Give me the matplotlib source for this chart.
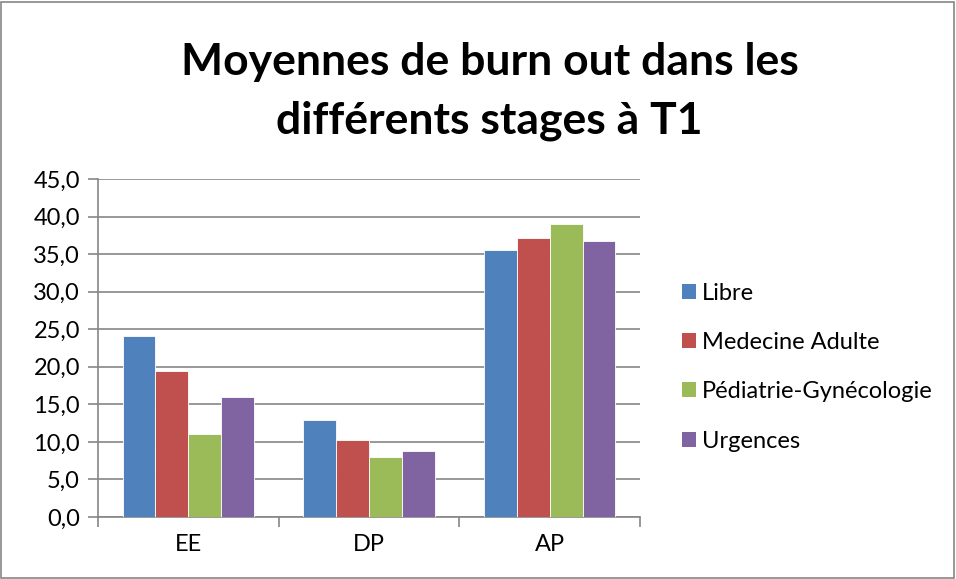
import matplotlib
matplotlib.use("Agg")
from matplotlib import pyplot as plt
from matplotlib.patches import Rectangle, Patch
import numpy as np

categories = ["EE", "DP", "AP"]
series = ["Libre", "Medecine Adulte", "Pédiatrie-Gynécologie", "Urgences"]
libre = [24.1, 12.85, 35.5]
medecine = [19.5, 10.2, 37.1]
pediatrie = [11.0, 7.95, 39.0]
urgences = [16.0, 8.8, 36.7]
yticks = [0, 5, 10, 15, 20, 25, 30, 35, 40, 45]

colors = ["#4F81BD", "#C0504D", "#9BBB59", "#8064A2"]
values = [libre, medecine, pediatrie, urgences]

plt.rcParams["font.family"] = ["Lato", "DejaVu Sans"]

fig = plt.figure(figsize=(9.56, 5.79), dpi=100)
ax = fig.add_axes([0.1025, 0.1071, 0.567, 0.5838])

x = np.arange(len(categories))
w = 1 / 5.5
for i, (vals, c) in enumerate(zip(values, colors)):
    ax.bar(x + (i - 1.5) * w, vals, width=w, color=c, edgecolor="white",
           linewidth=0.6, zorder=3, label=series[i])

ax.set_xlim(-0.5, 2.5)
ax.set_ylim(0, 45)
ax.set_yticks(yticks)
ax.set_yticklabels([f"{v:.1f}".replace(".", ",") for v in yticks], fontsize=17)
ax.yaxis.grid(True, color="#868686", linewidth=1.2, zorder=0)

ax.set_xticks(x)
ax.set_xticklabels(categories, fontsize=17)
ax.tick_params(axis="x", which="major", length=0, pad=12)
ax.set_xticks([-0.5, 0.5, 1.5, 2.5], minor=True)
ax.tick_params(axis="x", which="minor", length=7, color="#868686", width=1.2)
ax.tick_params(axis="y", length=7, color="#868686", width=1.2, pad=6)

for s in ["top", "right"]:
    ax.spines[s].set_visible(False)
for s in ["left", "bottom"]:
    ax.spines[s].set_color("#868686")
    ax.spines[s].set_linewidth(1.2)

fig.text(0.512, 0.842, "Moyennes de burn out dans les\ndifférents stages à T1",
         ha="center", va="center", fontsize=32, fontweight="bold",
         linespacing=1.55)

handles = [Patch(facecolor=c, edgecolor="none") for c in colors]
fig.legend(handles, series, loc="center left", bbox_to_anchor=(0.713, 0.366),
           frameon=False, fontsize=17, handlelength=0.6, handleheight=0.6,
           handletextpad=0.25, labelspacing=1.2, borderaxespad=0, borderpad=0)

fig.patches.append(Rectangle((0.001, 0.002), 0.997, 0.995, transform=fig.transFigure,
                             fill=False, edgecolor="#868686", linewidth=1.2))

fig.savefig("out.png", dpi=100)
